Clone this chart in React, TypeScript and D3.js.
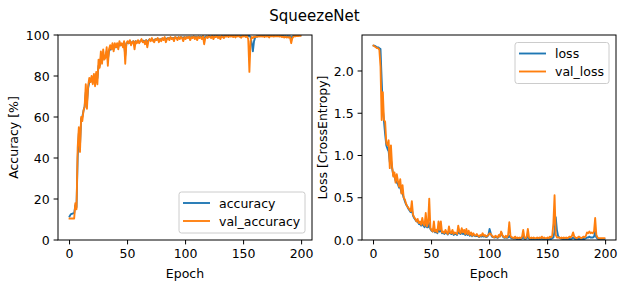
import React from "react";
import * as d3 from "d3";

const epochs: number[] = Array.from({ length: 200 }, (_, i) => i);

const accuracy: number[] = [
  11.5, 12.5, 12.8, 13, 13, 17, 16, 40, 52, 46,
  59, 60, 63, 65, 72, 67, 74, 77, 77, 79,
  78, 80, 78, 81, 79, 85, 85, 89, 87, 90,
  89, 90, 92, 88, 92, 93, 93, 94, 93, 95,
  94, 95, 94, 96, 95, 95.5, 95, 96, 90, 96,
  96.5, 96, 97, 96, 96.5, 97, 95, 97, 96.5, 97,
  96.5, 97, 97.5, 97, 97.2, 96.5, 97.5, 96, 97.3, 97.8,
  97.5, 98, 97.5, 97.3, 98, 97.8, 98.2, 97.5, 98, 97.8,
  98.2, 98, 98.5, 97.8, 98.3, 98.5, 98.2, 98.7, 98.4, 98.6,
  98.2, 98.8, 98.7, 98.4, 98.9, 98.6, 99, 98.8, 98.5, 99,
  98.6, 99, 98.9, 99.1, 98.7, 99.1, 99, 99.2, 98.9, 99.1,
  98.7, 99.2, 99, 99.2, 99, 99.3, 98.5, 99.1, 99.3, 99.1,
  99.4, 99.3, 99.2, 99.5, 99.2, 99.4, 99.3, 99.5, 99.2, 99.4,
  99.1, 99.5, 99.4, 99.2, 99.6, 99.4, 99.6, 99.4, 99.7, 99.5,
  99.6, 99.4, 99.7, 99.3, 99.6, 99.5, 99.7, 99.5, 99.3, 99.6,
  99.6, 99.7, 99.5, 99.7, 99.5, 99.6, 99, 96, 92, 97,
  98.8, 99.3, 99.4, 99.5, 99.5, 99.6, 99.5, 99.6, 99.4, 99.6,
  99.5, 99.6, 99.3, 99.6, 99.5, 99.7, 99.5, 99.6, 99.7, 99.6,
  99.7, 99.5, 99.6, 99.4, 99.6, 99.3, 99.5, 99.3, 99.5, 99.3,
  99.4, 98.5, 99.2, 99.5, 99.7, 99.7, 99.8, 99.7, 99.8, 99.8,
];

const valAccuracy: number[] = [
  10.5, 10.5, 10.5, 10.5, 10.5, 18, 15, 45, 55, 43,
  60, 58, 63, 65, 76, 64, 75, 79, 77, 80,
  76, 81, 75, 82, 76, 88, 84, 92, 86, 93,
  88, 89, 94, 85, 93, 95, 93, 96, 92, 96,
  94, 96, 93, 97, 95, 96, 94, 97, 86, 96,
  97, 96, 97.5, 95, 96.5, 97, 93, 97, 96, 97.5,
  96, 97, 98, 96.5, 97, 95.5, 97.5, 94, 97, 98,
  97, 98.5, 97, 96.5, 98, 97.5, 98.5, 96.5, 98, 97,
  98.5, 97.5, 99, 96.5, 98, 98.5, 97.5, 99, 98, 98.5,
  97, 99, 98.5, 97.5, 99, 98, 99, 98.5, 97, 99,
  98, 99, 98.5, 99.2, 97.5, 99, 98.5, 99.3, 98, 99,
  97.5, 99.2, 98.5, 99, 98, 99.4, 95.5, 98.5, 99, 98.5,
  99.5, 99, 98.5, 99.5, 98, 99.3, 99, 99.5, 98.5, 99.3,
  98, 99.5, 99, 98.5, 99.5, 99.2, 99.5, 99, 99.6, 99.2,
  99.5, 99, 99.6, 98.8, 99.5, 99.3, 99.6, 99, 98.7, 99.5,
  99.3, 99.6, 99, 99.5, 98, 82, 97, 99, 98.5, 99.2,
  99, 99.3, 99.1, 99.4, 99.2, 99.5, 99.2, 99.4, 99, 99.5,
  99.2, 99.4, 98.8, 99.5, 99.3, 99.5, 99.2, 99.4, 99.5, 99.3,
  99.5, 99.2, 99.4, 99, 99.3, 98.8, 99.2, 98.8, 99, 98.7,
  99, 96, 98.5, 99.2, 99.5, 99.4, 99.6, 99.5, 99.6, 99.6,
];

const loss: number[] = [
  2.3, 2.3, 2.29, 2.28, 2.28, 2.27, 2.26, 1.9, 1.55, 1.4,
  1.25, 1.12, 1.08, 1.05, 0.92, 0.95, 0.85, 0.77, 0.75, 0.7,
  0.68, 0.66, 0.62, 0.63, 0.56, 0.55, 0.5, 0.46, 0.42, 0.4,
  0.37, 0.35, 0.33, 0.36, 0.29, 0.26, 0.24, 0.22, 0.22, 0.19,
  0.19, 0.17, 0.19, 0.17, 0.15, 0.2, 0.15, 0.15, 0.2, 0.13,
  0.11, 0.1, 0.14, 0.09, 0.1, 0.08, 0.13, 0.1, 0.13, 0.08,
  0.09, 0.07, 0.09, 0.08, 0.065, 0.1, 0.08, 0.07, 0.09, 0.06,
  0.07, 0.07, 0.06, 0.1, 0.08, 0.07, 0.09, 0.07, 0.08, 0.06,
  0.08, 0.06, 0.08, 0.05, 0.07, 0.045, 0.06, 0.05, 0.045, 0.05,
  0.045, 0.035, 0.045, 0.04, 0.05, 0.04, 0.045, 0.035, 0.04, 0.06,
  0.13, 0.08, 0.04, 0.035, 0.03, 0.035, 0.03, 0.025, 0.04, 0.05,
  0.09, 0.05, 0.03, 0.025, 0.03, 0.025, 0.03, 0.05, 0.03, 0.02,
  0.02, 0.015, 0.02, 0.012, 0.015, 0.012, 0.015, 0.012, 0.02, 0.04,
  0.015, 0.012, 0.02, 0.05, 0.015, 0.01, 0.012, 0.01, 0.012, 0.01,
  0.01, 0.012, 0.01, 0.012, 0.01, 0.015, 0.01, 0.012, 0.01, 0.01,
  0.012, 0.01, 0.015, 0.012, 0.02, 0.03, 0.1, 0.27, 0.12, 0.05,
  0.03, 0.02, 0.015, 0.012, 0.012, 0.01, 0.012, 0.01, 0.012, 0.015,
  0.012, 0.015, 0.03, 0.015, 0.012, 0.01, 0.012, 0.015, 0.012, 0.01,
  0.012, 0.015, 0.012, 0.02, 0.03, 0.03, 0.04, 0.03, 0.03, 0.03,
  0.04, 0.1, 0.03, 0.015, 0.01, 0.01, 0.01, 0.01, 0.01, 0.01,
];

const valLoss: number[] = [
  2.3, 2.29, 2.28, 2.27, 2.27, 2.25, 2.05, 1.42, 1.75, 1.42,
  1.4, 1.15, 1.12, 1.18, 0.85, 1.12, 0.87, 0.75, 0.8, 0.68,
  0.78, 0.7, 0.63, 0.72, 0.55, 0.65, 0.5, 0.48, 0.43, 0.4,
  0.38, 0.36, 0.34, 0.46, 0.3, 0.27, 0.25, 0.22, 0.25, 0.2,
  0.22, 0.18, 0.26, 0.19, 0.17, 0.32, 0.16, 0.2, 0.49, 0.14,
  0.12, 0.1, 0.22, 0.1, 0.12, 0.09, 0.22, 0.12, 0.22, 0.09,
  0.1, 0.08, 0.12, 0.09, 0.07, 0.16, 0.09, 0.08, 0.12, 0.07,
  0.09, 0.08, 0.07, 0.17, 0.1, 0.08, 0.14, 0.09, 0.12, 0.07,
  0.13, 0.07, 0.11, 0.06, 0.09, 0.05, 0.08, 0.06, 0.05, 0.07,
  0.05, 0.04, 0.06, 0.05, 0.08, 0.05, 0.06, 0.04, 0.05, 0.06,
  0.08, 0.07, 0.05, 0.04, 0.03, 0.05, 0.04, 0.03, 0.06, 0.04,
  0.1, 0.06, 0.04, 0.03, 0.05, 0.03, 0.06, 0.21, 0.05, 0.03,
  0.03, 0.02, 0.04, 0.02, 0.03, 0.02, 0.03, 0.02, 0.04, 0.12,
  0.03, 0.02, 0.04, 0.13, 0.03, 0.02, 0.03, 0.02, 0.03, 0.02,
  0.02, 0.03, 0.02, 0.03, 0.02, 0.04, 0.02, 0.03, 0.02, 0.02,
  0.03, 0.02, 0.04, 0.03, 0.05, 0.2, 0.53, 0.06, 0.03, 0.03,
  0.03, 0.02, 0.03, 0.02, 0.03, 0.02, 0.03, 0.02, 0.03, 0.04,
  0.03, 0.05, 0.09, 0.04, 0.03, 0.02, 0.03, 0.04, 0.03, 0.02,
  0.03, 0.04, 0.03, 0.05, 0.09, 0.08, 0.1, 0.08, 0.09, 0.08,
  0.1, 0.26, 0.06, 0.03, 0.02, 0.02, 0.02, 0.02, 0.02, 0.02,
];

const accTicks: number[] = [0, 20, 40, 60, 80, 100];
const lossTicks: number[] = [0, 0.5, 1.0, 1.5, 2.0];
const epochTicks: number[] = [0, 50, 100, 150, 200];
const accLegend: string[] = ["accuracy", "val_accuracy"];
const lossLegend: string[] = ["loss", "val_loss"];

const BLUE = "#1f77b4";
const ORANGE = "#ff7f0e";
const FONT = "DejaVu Sans, sans-serif";
const FS = 12.5;

type PanelProps = {
  left: number;
  right: number;
  top: number;
  bottom: number;
  yDomain: [number, number];
  yTicks: number[];
  yFmt: (v: number) => string;
  series: number[][];
  legend: string[];
  legendPos: "lowerRight" | "upperRight";
  yLabel: string;
  yLabelX: number;
  id: string;
};

function Panel(p: PanelProps) {
  const x = d3.scaleLinear().domain([-9.95, 208.95]).range([p.left, p.right]);
  const y = d3.scaleLinear().domain(p.yDomain).range([p.bottom, p.top]);
  const line = d3
    .line<number>()
    .x((_, i) => x(epochs[i]))
    .y((d) => y(d));
  const colors = [BLUE, ORANGE];
  const tl = 4.4;
  const legW = p.legendPos === "lowerRight" ? 126 : 94;
  const legH = 41;
  const legX = p.right - 7 - legW;
  const legY = p.legendPos === "lowerRight" ? p.bottom - 7 - legH : p.top + 7.5;
  return (
    <g>
      <defs>
        <clipPath id={p.id}>
          <rect x={p.left} y={p.top} width={p.right - p.left} height={p.bottom - p.top} />
        </clipPath>
      </defs>
      <g clipPath={`url(#${p.id})`}>
        {p.series.map((s, k) => (
          <path
            key={k}
            d={line(s) || ""}
            fill="none"
            stroke={colors[k]}
            strokeWidth={1.875}
            strokeLinejoin="round"
            strokeLinecap="square"
          />
        ))}
      </g>
      <rect
        x={p.left}
        y={p.top}
        width={p.right - p.left}
        height={p.bottom - p.top}
        fill="none"
        stroke="#000"
        strokeWidth={1}
      />
      {epochTicks.map((t) => (
        <g key={"x" + t}>
          <line x1={x(t)} x2={x(t)} y1={p.bottom} y2={p.bottom + tl} stroke="#000" strokeWidth={1} />
          <text x={x(t)} y={p.bottom + 18} textAnchor="middle" fontFamily={FONT} fontSize={FS} fill="#000">
            {t}
          </text>
        </g>
      ))}
      {p.yTicks.map((t) => (
        <g key={"y" + t}>
          <line x1={p.left - tl} x2={p.left} y1={y(t)} y2={y(t)} stroke="#000" strokeWidth={1} />
          <text x={p.left - tl - 4} y={y(t) + 4.6} textAnchor="end" fontFamily={FONT} fontSize={FS} fill="#000">
            {p.yFmt(t)}
          </text>
        </g>
      ))}
      <text
        x={(p.left + p.right) / 2}
        y={p.bottom + 38}
        textAnchor="middle"
        fontFamily={FONT}
        fontSize={FS}
        fill="#000"
      >
        Epoch
      </text>
      <text
        transform={`translate(${p.yLabelX},${(p.top + p.bottom) / 2}) rotate(-90)`}
        textAnchor="middle"
        fontFamily={FONT}
        fontSize={FS}
        fill="#000"
      >
        {p.yLabel}
      </text>
      <rect
        x={legX}
        y={legY}
        width={legW}
        height={legH}
        rx={2.5}
        fill="#fff"
        fillOpacity={0.8}
        stroke="#cccccc"
        strokeWidth={1}
      />
      {p.legend.map((name, k) => (
        <g key={name}>
          <line
            x1={legX + 4}
            x2={legX + 31}
            y1={legY + 11 + k * 18}
            y2={legY + 11 + k * 18}
            stroke={colors[k]}
            strokeWidth={1.875}
          />
          <text x={legX + 40} y={legY + 15.5 + k * 18} fontFamily={FONT} fontSize={FS} fill="#000">
            {name}
          </text>
        </g>
      ))}
    </g>
  );
}

export default function App() {
  return (
    <svg
      width={629}
      height={291}
      style={{ position: "absolute", left: 0, top: 0, background: "#fff" }}
    >
      <rect x={0} y={0} width={629} height={291} fill="#fff" />
      <text x={314.5} y={21} textAnchor="middle" fontFamily={FONT} fontSize={15} fill="#000">
        SqueezeNet
      </text>
      <Panel
        id="clipA"
        left={58}
        right={312}
        top={35}
        bottom={240}
        yDomain={[0, 100]}
        yTicks={accTicks}
        yFmt={(v) => String(v)}
        series={[accuracy, valAccuracy]}
        legend={accLegend}
        legendPos="lowerRight"
        yLabel="Accuracy [%]"
        yLabelX={17.5}
      />
      <Panel
        id="clipB"
        left={362}
        right={616}
        top={35}
        bottom={240}
        yDomain={[0, 2.426]}
        yTicks={lossTicks}
        yFmt={(v) => v.toFixed(1)}
        series={[loss, valLoss]}
        legend={lossLegend}
        legendPos="upperRight"
        yLabel="Loss [CrossEntropy]"
        yLabelX={327}
      />
    </svg>
  );
}
